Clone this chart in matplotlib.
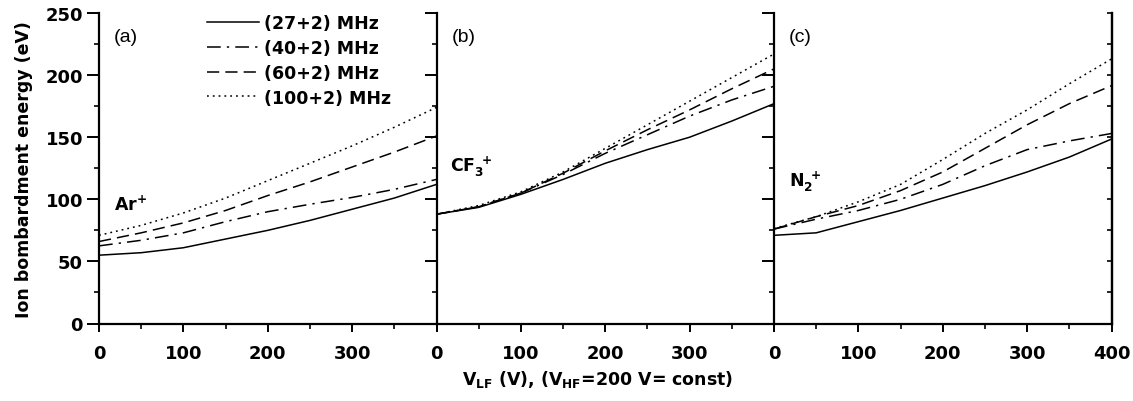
import matplotlib
matplotlib.use("Agg")
import matplotlib.pyplot as plt
from matplotlib.ticker import MultipleLocator, FixedLocator

plt.rcParams['font.family'] = ['DejaVu Sans']
plt.rcParams['mathtext.fontset'] = 'dejavusans'

v_lf = [0, 50, 100, 150, 200, 250, 300, 350, 400]

# Ar+
ar_27 = [55, 57, 61, 68, 75, 83, 92, 101, 112]
ar_40 = [62.5, 67, 73, 82, 90, 96, 101.5, 108, 116]
ar_60 = [66, 73, 81, 91, 103, 114, 126, 138, 151]
ar_100 = [71, 79, 89, 101, 115, 129, 143, 158, 174]

# CF3+
cf_27 = [88, 93.5, 104, 116, 129, 140, 150, 163, 177]
cf_40 = [88, 94, 105, 120, 137, 152, 167, 180, 191]
cf_60 = [88, 94, 105, 121, 139, 156, 172, 189, 205]
cf_100 = [88, 95, 106, 122, 141, 160, 179, 198, 217]

# N2+
n_27 = [71, 73, 82, 91, 101, 111, 122, 134, 148.5]
n_40 = [76, 84, 91, 100, 112, 127, 140, 147, 153]
n_60 = [76, 86, 95, 107, 122, 141, 160, 177, 191.5]
n_100 = [76.5, 86, 98, 112, 132, 153, 172, 193, 213]

series_labels = ['(27+2) MHz', '(40+2) MHz', '(60+2) MHz', '(100+2) MHz']
panel_tags = ['(a)', '(b)', '(c)']
ion_labels = [r'$\mathbf{Ar^{+}}$', r'$\mathbf{CF_3^{\ +}}$', r'$\mathbf{N_2^{\ +}}$']
panels = [
    [ar_27, ar_40, ar_60, ar_100],
    [cf_27, cf_40, cf_60, cf_100],
    [n_27, n_40, n_60, n_100],
]

styles = [
    dict(linestyle='-'),
    dict(linestyle=(0, (9, 4, 1.5, 4))),
    dict(linestyle=(0, (8, 4))),
    dict(linestyle=(0, (1.2, 2.6))),
]

W, H = 1133, 402
fig = plt.figure(figsize=(W / 100, H / 100), dpi=100)

lefts = [99, 436.5, 774]
pw = 337.5
y0, y1 = 324.5, 14

ion_pos = [(0.045, 0.385), (0.04, 0.507), (0.045, 0.459)]

axes = []
for i, (lx, data) in enumerate(zip(lefts, panels)):
    ax = fig.add_axes([lx / W, 1 - y0 / H, pw / W, (y0 - y1) / H])
    for j, ys in enumerate(data):
        ax.plot(v_lf, ys, color='black', lw=1.1, label=series_labels[j], **styles[j])
    ax.set_xlim(0, 400)
    ax.set_ylim(0, 250)
    ax.spines['top'].set_visible(False)
    ax.spines['right'].set_visible(False)
    for s in ['left', 'bottom']:
        ax.spines[s].set_linewidth(1.6)
    ax.xaxis.set_major_locator(FixedLocator([0, 100, 200, 300, 400]))
    ax.xaxis.set_minor_locator(MultipleLocator(50))
    ax.yaxis.set_major_locator(MultipleLocator(50))
    ax.yaxis.set_minor_locator(MultipleLocator(25))
    ax.tick_params(which='major', direction='out', width=1.4, labelsize=13)
    ax.tick_params(axis='y', which='major', length=8.5, pad=3)
    ax.tick_params(axis='x', which='major', length=6, pad=9)
    ax.tick_params(which='minor', direction='out', length=3.5, width=1.2)
    if i < 2:
        ax.set_xticklabels(['0', '100', '200', '300', ''])
    else:
        ax.set_xticklabels(['0', '100', '200', '300', '400'])
    for lab in ax.get_xticklabels() + ax.get_yticklabels():
        lab.set_fontweight('bold')
    if i > 0:
        ax.tick_params(axis='y', which='both', labelleft=False)
    ax.text(0.045, 0.925, panel_tags[i], transform=ax.transAxes, fontsize=14,
            family='Liberation Sans', ha='left', va='center')
    ax.text(ion_pos[i][0], ion_pos[i][1], ion_labels[i], transform=ax.transAxes,
            fontsize=12.5, ha='left', va='center')
    axes.append(ax)

# right-hand frame of the last panel
axc = axes[2]
axc.spines['right'].set_visible(True)
axc.spines['right'].set_linewidth(1.6)
sec = axc.secondary_yaxis('right')
sec.yaxis.set_major_locator(MultipleLocator(25))
sec.tick_params(which='major', direction='in', length=3.5, width=1.2, labelright=False)
sec.spines['right'].set_linewidth(1.6)

axes[0].set_ylabel('Ion bombardment energy (eV)', fontsize=12.5, fontweight='bold',
                   labelpad=9)

leg = axes[0].legend(loc='upper left', bbox_to_anchor=(0.3, 1.02), frameon=False,
                     fontsize=12.5, handlelength=3.0, handletextpad=0.3,
                     labelspacing=0.4, borderaxespad=0)
for t in leg.get_texts():
    t.set_fontweight('bold')

fig.text(598 / W, 1 - 380 / H,
         r'$\mathbf{V_{LF}}$ (V), ($\mathbf{V_{HF}}$=200 V= const)',
         fontsize=12.5, fontweight='bold', ha='center', va='center')

fig.savefig('out.png', dpi=100)
